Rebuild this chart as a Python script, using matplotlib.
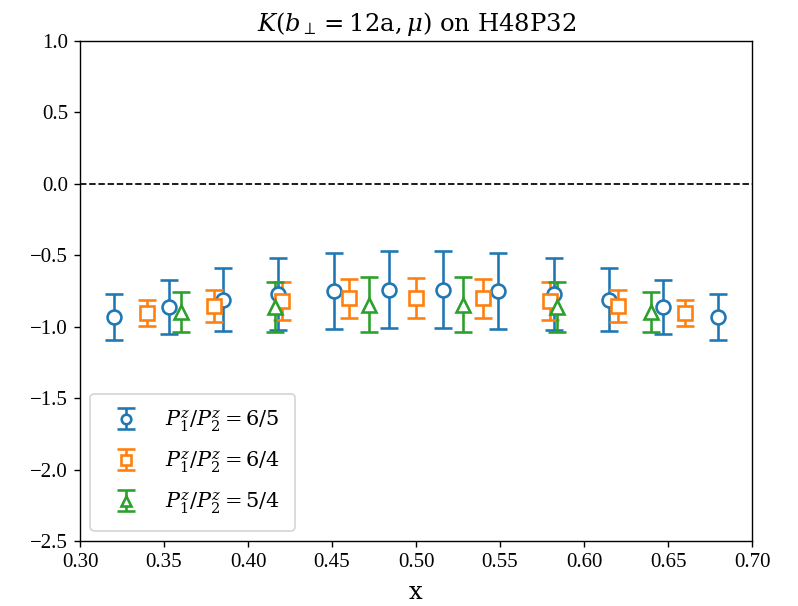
import matplotlib
matplotlib.use('Agg')
import matplotlib.pyplot as plt
from matplotlib.lines import Line2D

plt.rcParams['font.family'] = 'Liberation Serif'
plt.rcParams['mathtext.fontset'] = 'dejavuserif'

# P1/P2 = 6/5
x_65 = [0.320, 0.353, 0.385, 0.418, 0.451, 0.484, 0.516, 0.549, 0.582, 0.615, 0.647, 0.680]
y_65 = [-0.93, -0.86, -0.81, -0.77, -0.75, -0.74, -0.74, -0.75, -0.77, -0.81, -0.86, -0.93]
e_65 = [0.16, 0.19, 0.22, 0.25, 0.265, 0.27, 0.27, 0.265, 0.25, 0.22, 0.19, 0.16]

# P1/P2 = 6/4
x_64 = [0.34, 0.38, 0.42, 0.46, 0.50, 0.54, 0.58, 0.62, 0.66]
y_64 = [-0.905, -0.855, -0.82, -0.80, -0.80, -0.80, -0.82, -0.855, -0.905]
e_64 = [0.09, 0.11, 0.13, 0.137, 0.14, 0.137, 0.13, 0.11, 0.09]

# P1/P2 = 5/4
x_54 = [0.360, 0.416, 0.472, 0.528, 0.584, 0.640]
y_54 = [-0.90, -0.865, -0.845, -0.845, -0.865, -0.90]
e_54 = [0.14, 0.175, 0.195, 0.195, 0.175, 0.14]

labels = [r'$P_1^z/P_2^z=6/5$', r'$P_1^z/P_2^z=6/4$', r'$P_1^z/P_2^z=5/4$']

fig = plt.figure(figsize=(6.384, 4.848), dpi=125)
ax = fig.add_axes([0.1003, 0.1073, 0.8421, 0.825])

style = dict(capsize=5, elinewidth=1.5, capthick=1.5, markersize=8,
             markeredgewidth=1.5, markerfacecolor='white', linestyle='none')
ax.errorbar(x_65, y_65, yerr=e_65, fmt='o', color='C0', label=labels[0], **style)
ax.errorbar(x_64, y_64, yerr=e_64, fmt='s', color='C1', label=labels[1], **style)
ax.errorbar(x_54, y_54, yerr=e_54, fmt='^', color='C2', label=labels[2], **style)

ax.axhline(0, color='black', linestyle='--', linewidth=1)
ax.set_xlim(0.30, 0.70)
ax.set_ylim(-2.5, 1.0)
ax.tick_params(labelsize=12)
ax.set_title(r'$K(b_\perp=12\mathrm{a},\mu)$ on H48P32', fontsize=14, family='DejaVu Serif')
ax.set_xlabel('x', fontsize=14, family='DejaVu Serif', labelpad=5)
leg = ax.legend(loc='lower left', fontsize=12, borderpad=0.7, labelspacing=0.75,
                handletextpad=0.9)
# smaller markers in the legend handles
for ln in leg.findobj(Line2D):
    if ln.get_marker() in ('o', 's', '^'):
        ln.set_markersize(5.5)

fig.savefig('out.png', dpi=125)
